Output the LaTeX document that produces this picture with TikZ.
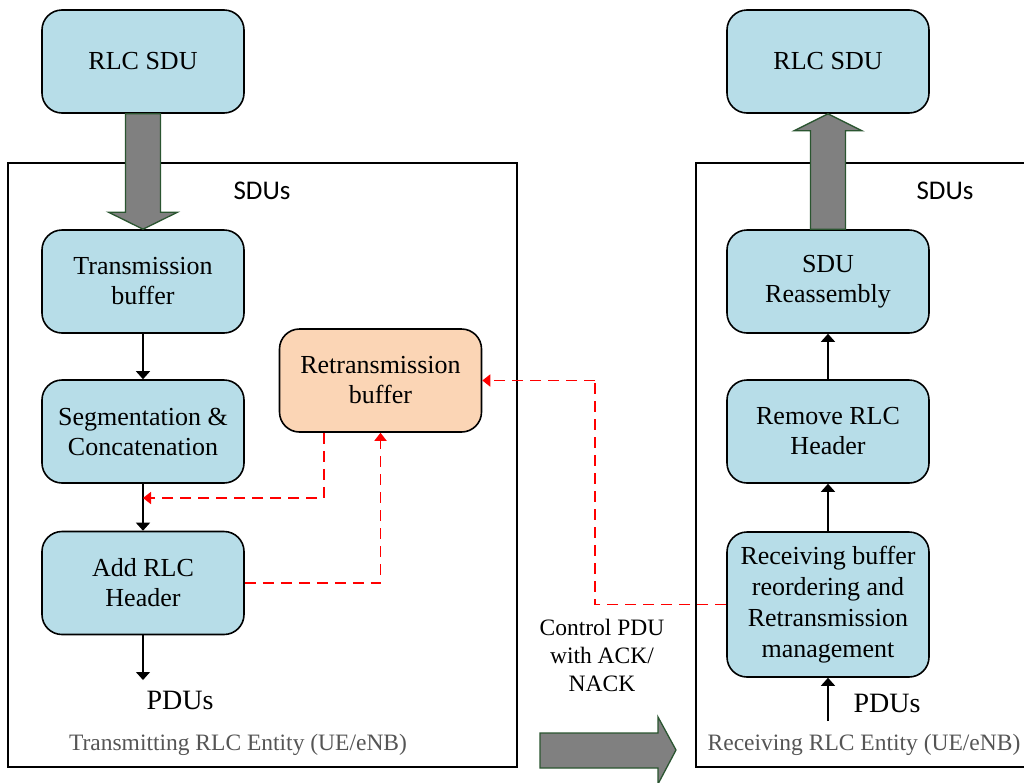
\documentclass[tikz,border=0pt]{standalone}
\usepackage{fontspec}
\setmainfont{Liberation Serif}
\newfontfamily\timesfont{Liberation Serif}
\newfontfamily\calibrifont{Carlito}
\usetikzlibrary{arrows.meta,calc}
\definecolor{boxblue}{HTML}{B7DDE8}
\definecolor{boxorange}{HTML}{FBD5B5}
\definecolor{bigarrow}{HTML}{808080}
\definecolor{arrowedge}{HTML}{2A5530}
\definecolor{entitygray}{HTML}{555555}
\begin{document}
\begin{tikzpicture}[x=1pt,y=-1pt,
  block/.style={draw=black, line width=1.6pt, rounded corners=20pt, fill=boxblue,
    minimum width=202pt, minimum height=103pt, inner sep=0pt, align=center,
    font=\timesfont\fontsize{26}{30}\selectfont},
  retxblock/.style={block, fill=boxorange},
  frame/.style={draw=black, line width=1.3pt},
  flow/.style={draw=black, line width=1.2pt, -{Triangle[width=14pt,length=8pt]}},
  ctrl/.style={draw=red, line width=1.8pt, dash pattern=on 11pt off 7pt,
    -{Triangle[width=12pt,length=8pt]}},
  ctrlplain/.style={draw=red, line width=1.8pt, dash pattern=on 11pt off 7pt},
  fat/.style={fill=bigarrow, draw=arrowedge, line width=1.3pt, line join=miter},
  sdulbl/.style={font=\calibrifont\fontsize{27}{30}\selectfont},
  pdulbl/.style={font=\timesfont\fontsize{28}{30}\selectfont},
  entity/.style={text=entitygray, font=\timesfont\fontsize{23.5}{28}\selectfont},
  ctrllbl/.style={align=center, font=\timesfont\fontsize{23.5}{28}\selectfont}
]
\useasboundingbox (0,0) rectangle (1024,782);
\fill[white] (0,0) rectangle (1024,782);

% entity frames
\draw[frame] (8,163) rectangle (517,767);
\draw[frame] (1030,163) -- (696,163) -- (696,767) -- (1030,767);

% transmitting side
\node[block] (sdutx) at (143,61.5) {RLC SDU};
\node[block] (txbuf) at (143,281.5) {Transmission\\buffer};
\node[block] (seg)   at (143,431.5) {Segmentation \&\\Concatenation};
\node[block] (addh)  at (143,583)   {Add RLC\\Header};
\node[retxblock] (retx) at (380.5,380.5) {Retransmission\\buffer};

% receiving side
\node[block] (sdurx) at (828,61.5)  {RLC SDU};
\node[block] (reasm) at (828,281.5) {SDU\\Reassembly};
\node[block] (remh)  at (828,431.5) {Remove RLC\\Header};
\node[block, minimum height=145pt, font=\timesfont\fontsize{26}{31}\selectfont]
  (rcv) at (828,604.5) {Receiving buffer\\reordering and\\Retransmission\\management};

% labels
\node[sdulbl] (sdustx) at (262,191) {SDUs};
\node[sdulbl] (sdusrx) at (945,191) {SDUs};
\node[pdulbl] (pdutx) at (180,700) {PDUs};
\node[pdulbl] (pdurx) at (887,703) {PDUs};
\node[entity] (enttx) at (238,745) {Transmitting RLC Entity (UE/eNB)};
\node[entity] (entrx) at (864,745) {Receiving RLC Entity (UE/eNB)};
\node[ctrllbl] (ctrltxt) at (602,655) {Control PDU\\with ACK/\\NACK};

% fat SDU arrows
\draw[fat] ($(sdutx.south)+(-17.5,0)$) -- ($(sdutx.south)+(17.5,0)$)
  -- ($(txbuf.north)+(17.5,-17)$) -- ($(txbuf.north)+(34.5,-17)$)
  -- (txbuf.north) -- ($(txbuf.north)+(-34.5,-17)$)
  -- ($(txbuf.north)+(-17.5,-17)$) -- cycle;
\draw[fat] ($(reasm.north)+(-17.5,0)$) -- ($(reasm.north)+(17.5,0)$)
  -- ($(sdurx.south)+(17.5,17)$) -- ($(sdurx.south)+(34,17)$)
  -- (sdurx.south) -- ($(sdurx.south)+(-34,17)$)
  -- ($(sdurx.south)+(-17.5,17)$) -- cycle;

% fat transfer arrow
\draw[fat] (540,733) -- (658,733) -- (658,717) -- (676,750) -- (658,784)
  -- (658,768) -- (540,768) -- cycle;

% data flow
\coordinate (pdutxend) at (143,680);
\coordinate (pdurxstart) at (828,721);
\draw[flow] (txbuf) -- (seg);
\draw[flow] (seg) -- (addh);
\draw[flow] (addh) -- (pdutxend);
\draw[flow] (pdurxstart) -- (rcv);
\draw[flow] (rcv) -- (remh);
\draw[flow] (remh) -- (reasm);

% retransmission control paths
\coordinate (segjoin) at (143,498);
\coordinate (ctrlbend) at (595,380.5);
\draw[ctrl] ($(retx.south)+(-56.5,0)$) |- (segjoin);
\draw[ctrl] (addh.east) -| (retx.south);
\draw[ctrlplain] (rcv.west) -| (ctrlbend);
\draw[ctrl] (ctrlbend) -- (retx.east);
\end{tikzpicture}
\end{document}
